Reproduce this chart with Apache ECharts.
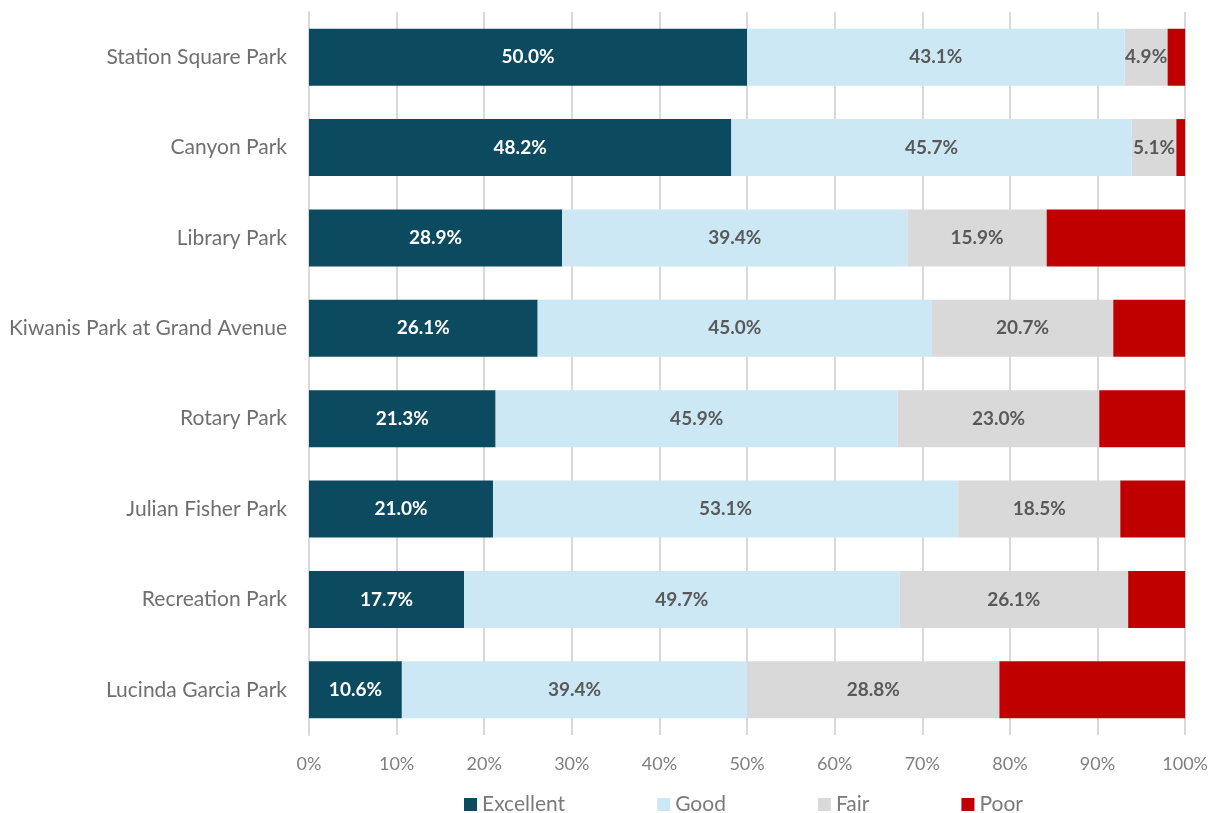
<!DOCTYPE html>
<html>
<head>
<meta charset="utf-8">
<script src="https://cdn.jsdelivr.net/npm/echarts@6/dist/echarts.min.js"></script>
<style>
    html, body { margin: 0; padding: 0; background: #fff; }
    #chart { width: 1211px; height: 813px; }
</style>
</head>
<body>
<div id="chart"></div>
<script>
// parks, top to bottom as drawn
var parks = ['Station Square Park', 'Canyon Park', 'Library Park', 'Kiwanis Park at Grand Avenue',
    'Rotary Park', 'Julian Fisher Park', 'Recreation Park', 'Lucinda Garcia Park'];

var excellent = [50.0, 48.2, 28.9, 26.1, 21.3, 21.0, 17.7, 10.6];
var good      = [43.1, 45.7, 39.4, 45.0, 45.9, 53.1, 49.7, 39.4];
var fair      = [4.9, 5.1, 15.9, 20.7, 23.0, 18.5, 26.1, 28.8];
var poor      = [2.0, 1.0, 15.8, 8.2, 9.8, 7.4, 6.5, 21.2];

var ratings = ['Excellent', 'Good', 'Fair', 'Poor'];

var myChart = echarts.init(document.getElementById('chart'));

var font = 'Lato, "Open Sans", sans-serif';

var _makeSeries = function (name, data, color, labelColor) {
    return {
        name: name,
        type: 'bar',
        stack: 'total',
        barCategoryGap: '37%',
        data: data,
        itemStyle: { color: color },
        label: {
            show: labelColor != null,
            position: 'inside',
            formatter: function (p) { return p.value.toFixed(1) + '%'; },
            color: labelColor,
            fontFamily: font,
            fontWeight: 'bold',
            fontSize: 19
        },
        emphasis: { disabled: true }
    };
};

var option = {
    animation: false,
    grid: { left: 309, right: 25, top: 12, bottom: 78, containLabel: false },
    legend: {
        data: ratings,
        top: 789,
        left: 459,
        itemWidth: 13,
        itemHeight: 13,
        itemGap: 92,
        icon: 'rect',
        textStyle: { color: '#7a7a7a', fontSize: 21, fontFamily: font }
    },
    xAxis: {
        type: 'value',
        min: 0,
        max: 100,
        interval: 10,
        axisLine: { show: false },
        axisTick: { show: false },
        splitLine: { show: true, lineStyle: { color: '#d9d9d9', width: 2 } },
        axisLabel: {
            formatter: '{value}%',
            color: '#7f7f7f',
            fontSize: 18,
            fontFamily: font,
            margin: 20
        }
    },
    yAxis: {
        type: 'category',
        data: parks,
        inverse: true,
        axisLine: { show: true, lineStyle: { color: '#d9d9d9', width: 2 } },
        axisTick: { show: false },
        axisLabel: {
            color: '#6f6f6f',
            fontSize: 21,
            fontFamily: font,
            margin: 22
        }
    },
    series: [
        _makeSeries('Excellent', excellent, '#0c4a60', '#ffffff'),
        _makeSeries('Good', good, '#cce8f4', '#595959'),
        _makeSeries('Fair', fair, '#d9d9d9', '#595959'),
        _makeSeries('Poor', poor, '#c00000', null)
    ]
};

myChart.setOption(option);
</script>
</body>
</html>
